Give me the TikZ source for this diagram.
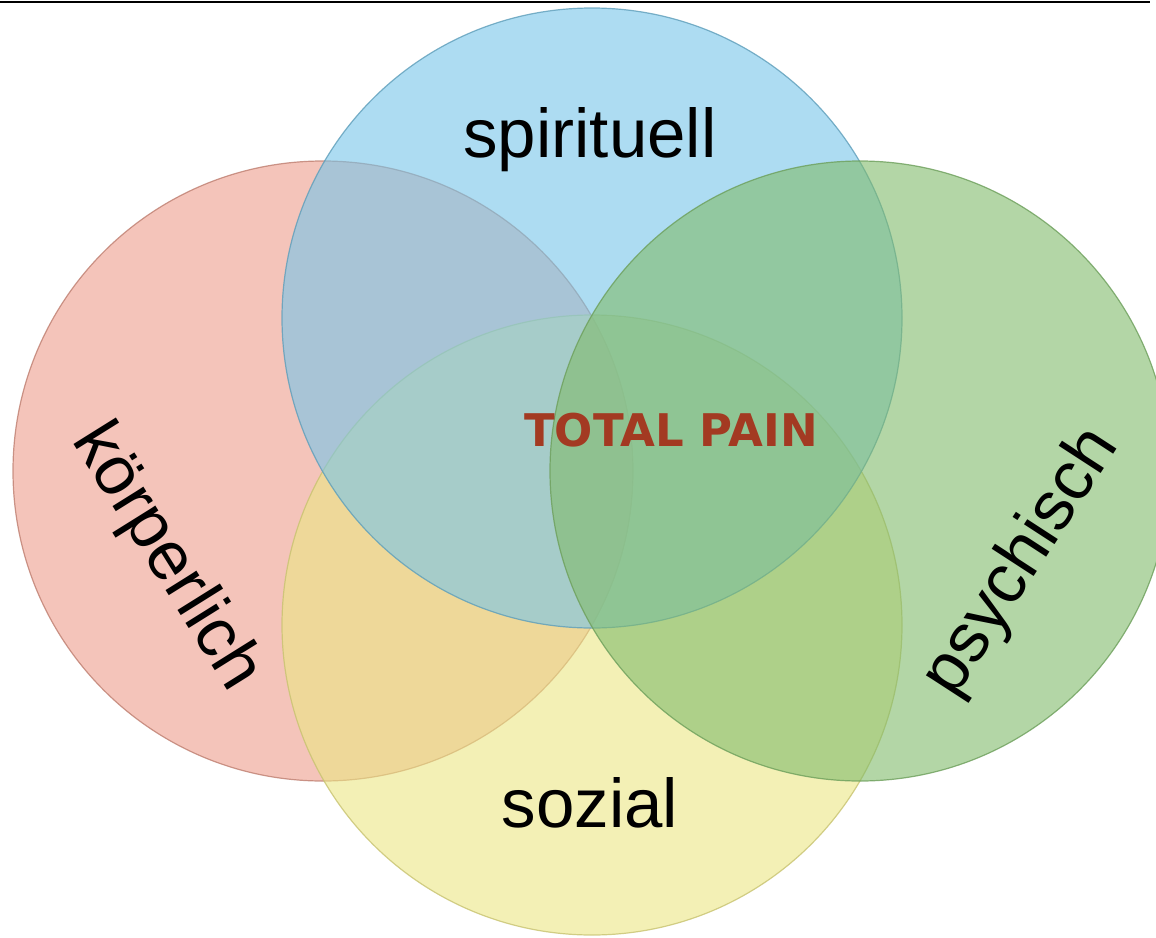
\documentclass[tikz,border=0pt]{standalone}
\usepackage{fontspec}
\setmainfont{Liberation Sans}
\newfontfamily\boldfont{DejaVu Sans}
\usepackage{tikz}
\usetikzlibrary{positioning}
\definecolor{redfill}{HTML}{ED9D8C}
\definecolor{bluefill}{HTML}{76C5E9}
\definecolor{greenfill}{HTML}{80BB6B}
\definecolor{yellowfill}{HTML}{EBE684}
\definecolor{painred}{HTML}{A33A22}

\begin{document}
\begin{tikzpicture}[x=1pt, y=-1pt,
    ring/.style={circle, inner sep=0pt, minimum size=620pt, line width=1.2pt,
                 fill opacity=0.6, draw opacity=0.8},
    label/.style={font=\fontsize{69}{80}\selectfont, text=black}]
    \useasboundingbox (0,0) rectangle (1156,937);
    \node[ring, draw=redfill!80!black, fill=redfill] (phys) at (323,471) {};
    \node[ring, draw=yellowfill!85!black, fill=yellowfill] (soz) at (592,625) {};
    \node[ring, draw=bluefill!80!black, fill=bluefill] (spir) at (592,318) {};
    \node[ring, draw=greenfill!85!black, fill=greenfill] (psy) at (860,471) {};
    \draw[line width=2.2pt] (0,2) -- (1150,2);
    \node[label] (spirlabel) at (590,140) {spirituell};
    \node[label] (sozlabel) at (590,803) {sozial};
    \node[label, rotate=-58] (physlabel) at (166,558) {körperlich};
    \node[label, rotate=57] (psylabel) at (1022,563) {psychisch};
    \node[font=\boldfont\bfseries\fontsize{45}{50}\selectfont, text=painred] (total) at (671,430) {TOTAL PAIN};
  \end{tikzpicture}
\end{document}
